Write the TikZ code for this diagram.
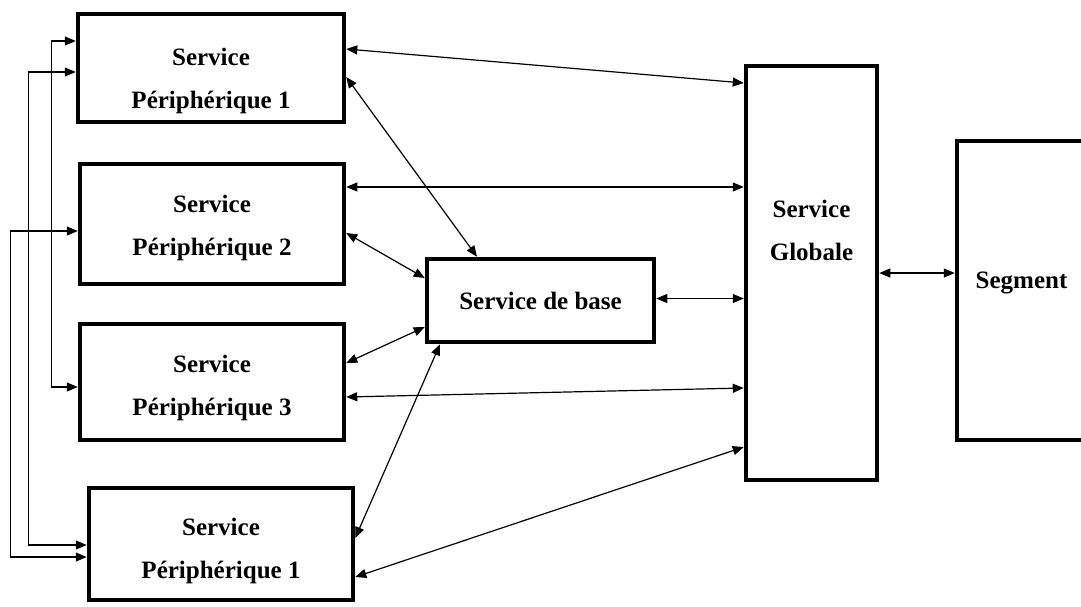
\documentclass[tikz,border=0pt]{standalone}
\usepackage{fontspec}
\setmainfont{Liberation Serif}
\usetikzlibrary{positioning,arrows.meta}

\begin{document}
\begin{tikzpicture}[x=1pt,y=-1pt,
    svcfont/.style={align=center, font=\fontsize{25}{43}\selectfont\bfseries},
    svcbox/.style={draw, line width=4.5pt, svcfont},
    link/.style={<->, line width=1.2pt, >={Triangle[length=11pt,width=9pt]}}]
    \useasboundingbox (0,0) rectangle (1081,606);

    % Peripheral services
    \node[svcbox, minimum width=266pt, minimum height=108pt,
        label={[svcfont,yshift=-13pt]center:Service\\Périphérique 1}] (p1) at (211,68) {};
    \node[svcbox, minimum width=264pt, minimum height=120pt,
        label={[svcfont,yshift=-4pt]center:Service\\Périphérique 2}] (p2) at (212,224) {};
    \node[svcbox, minimum width=264pt, minimum height=116pt,
        label={[svcfont,yshift=-6pt]center:Service\\Périphérique 3}] (p3) at (212,382) {};
    \node[svcbox, minimum width=264pt, minimum height=112pt,
        label={[svcfont,yshift=-7pt]center:Service\\Périphérique 1}] (p4) at (221,544) {};

    % Base, global service and segment
    \node[svcbox, minimum width=227pt, minimum height=83pt] (base) at (540.5,300.5) {Service de base};
    \node[svcbox, minimum width=131pt, minimum height=414pt,
        label={[svcfont,yshift=43pt]center:Service\\Globale}] (glob) at (811.5,273) {};
    \node[svcbox, minimum width=129pt, minimum height=299pt,
        label={[svcfont,yshift=8pt]center:Segment}] (seg) at (1021.5,290.5) {};

    % Links to the global service
    \draw[link] ([yshift=19pt]p1.east) -- ([yshift=190pt]glob.west);
    \draw[link] ([yshift=37pt]p2.east) -- ([yshift=86pt]glob.west);
    \draw[link] ([yshift=-15pt]p3.east) -- ([yshift=-115pt]glob.west);
    \draw[link] ([yshift=-33pt]p4.east) -- ([yshift=-174pt]glob.west);
    \draw[link] ([yshift=2pt]base.east) -- ([yshift=2pt]base.east -| glob.west);
    \draw[link] (glob.east) -- (glob.east -| seg.west);

    % Links to the base service
    \draw[link] ([yshift=-9pt]p1.east) -- ([xshift=-63.5pt]base.north);
    \draw[link] ([yshift=-9pt]p2.east) -- ([yshift=22.5pt]base.west);
    \draw[link] ([yshift=19pt]p3.east) -- ([yshift=-26.5pt]base.west);
    \draw[link] ([yshift=6pt]p4.east) -- ([xshift=-100.5pt]base.south);

    % Links between peripheral services
    \draw[link] ([yshift=27pt]p1.west) -- ++(-24,0) |- ([yshift=-5pt]p3.west);
    \draw[link] ([yshift=-4pt]p1.west) -- ++(-47,0) |- ([yshift=-1pt]p4.west);
    \draw[link] ([yshift=-7pt]p2.west) -- ++(-67,0) |- ([yshift=-13pt]p4.west);
\end{tikzpicture}
\end{document}
